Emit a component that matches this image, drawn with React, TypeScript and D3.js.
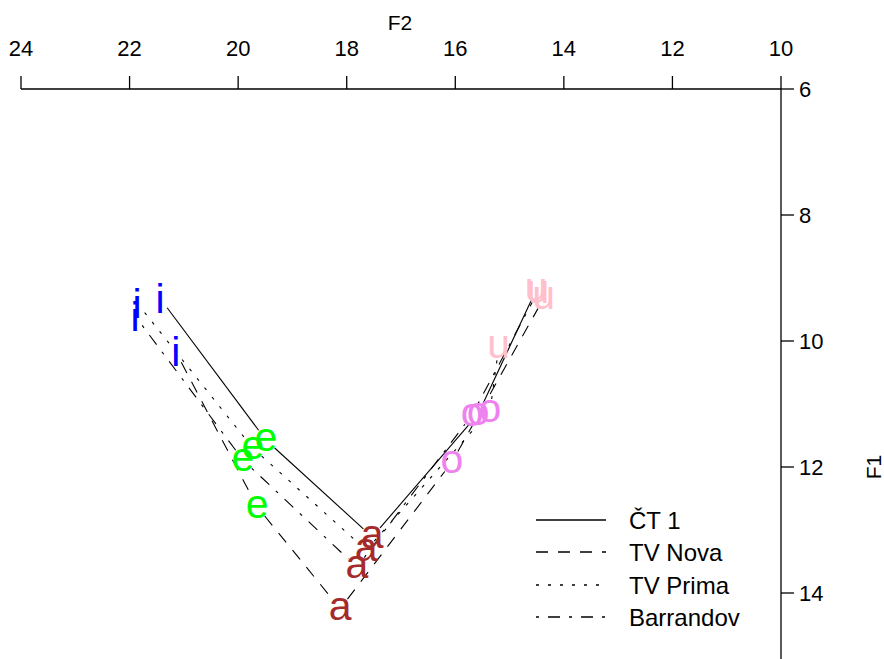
import React from "react";
import * as d3 from "d3";

const vowels = ["i", "e", "a", "o", "u"];
const vowelColors = ["#0000FF", "#00FF00", "#A52A2A", "#EE82EE", "#FFC0CB"];
const stations = ["ČT 1", "TV Nova", "TV Prima", "Barrandov"];
const dashes = ["none", "12,10", "3,9", "3,9,12,9"];

// F2 values (i, e, a, o, u)
const f2CT1 = [21.44, 19.49, 17.53, 15.58, 14.51];
const f2Nova = [21.15, 19.65, 18.12, 16.06, 14.37];
const f2Prima = [21.86, 19.73, 17.64, 15.36, 15.2];
const f2Barrandov = [21.9, 19.91, 17.81, 15.69, 14.48];
// F1 values (i, e, a, o, u)
const f1CT1 = [9.32, 11.57, 13.11, 11.16, 9.19];
const f1Nova = [10.17, 12.63, 14.25, 11.92, 9.32];
const f1Prima = [9.4, 11.7, 13.32, 11.11, 10.1];
const f1Barrandov = [9.6, 11.89, 13.59, 11.17, 9.22];

const f2Ticks = [24, 22, 20, 18, 16, 14, 12, 10];
const f1Ticks = [6, 8, 10, 12, 14];

const series = [
  { name: stations[0], f2: f2CT1, f1: f1CT1, dash: dashes[0] },
  { name: stations[1], f2: f2Nova, f1: f1Nova, dash: dashes[1] },
  { name: stations[2], f2: f2Prima, f1: f1Prima, dash: dashes[2] },
  { name: stations[3], f2: f2Barrandov, f1: f1Barrandov, dash: dashes[3] },
];

const W = 884;
const H = 659;
const font = "Liberation Sans, Arial, sans-serif";

export default function App() {
  const x = d3.scaleLinear().domain([24, 10]).range([21, 781]);
  const y = d3.scaleLinear().domain([6, 14]).range([89, 593]);
  const letterSize = 41;
  const gap = 12;

  const segs: { x1: number; y1: number; x2: number; y2: number; dash: string }[] = [];
  series.forEach((s) => {
    for (let k = 0; k < s.f2.length - 1; k++) {
      const ax = x(s.f2[k]), ay = y(s.f1[k]);
      const bx = x(s.f2[k + 1]), by = y(s.f1[k + 1]);
      const len = Math.hypot(bx - ax, by - ay);
      const ux = (bx - ax) / len, uy = (by - ay) / len;
      segs.push({
        x1: ax + ux * gap, y1: ay + uy * gap,
        x2: bx - ux * gap, y2: by - uy * gap,
        dash: s.dash,
      });
    }
  });

  const legendY = [520, 552, 585, 617];

  return (
    <svg width={W} height={H} style={{ position: "absolute", left: 0, top: 0, background: "#fff" }}
      fontFamily={font}>
      <rect x={0} y={0} width={W} height={H} fill="#fff" />
      {/* top axis */}
      <line x1={x(24)} x2={x(10)} y1={89} y2={89} stroke="#000" strokeWidth={1.3} />
      {f2Ticks.map((t) => (
        <g key={"tx" + t}>
          <line x1={x(t)} x2={x(t)} y1={89} y2={76} stroke="#000" strokeWidth={1.3} />
          <text x={x(t)} y={48} textAnchor="middle" dominantBaseline="central" fontSize={22}>{t}</text>
        </g>
      ))}
      <text x={400} y={22} textAnchor="middle" dominantBaseline="central" fontSize={21}>F2</text>
      {/* right axis */}
      <line x1={781} x2={781} y1={y(6)} y2={H} stroke="#000" strokeWidth={1.3} />
      {f1Ticks.map((t) => (
        <g key={"ty" + t}>
          <line x1={781} x2={794} y1={y(t)} y2={y(t)} stroke="#000" strokeWidth={1.3} />
          <text x={799} y={y(t)} textAnchor="start" dominantBaseline="central" fontSize={22}>{t}</text>
        </g>
      ))}
      <text x={873} y={467} textAnchor="middle" dominantBaseline="central" fontSize={21}
        transform="rotate(-90 873 467)">F1</text>
      {/* lines */}
      {segs.map((s, i) => (
        <line key={"seg" + i} x1={s.x1} y1={s.y1} x2={s.x2} y2={s.y2} stroke="#000"
          strokeWidth={1.1} strokeDasharray={s.dash === "none" ? undefined : s.dash} />
      ))}
      {/* letters */}
      {series.map((s, si) =>
        vowels.map((v, vi) => {
          const hEm = v === "i" ? 0.72 : 0.53;
          return (
            <text key={"l" + si + v} x={x(s.f2[vi])} y={y(s.f1[vi]) + (hEm / 2) * letterSize}
              textAnchor="middle" fontSize={letterSize} fill={vowelColors[vi]}>{v}</text>
          );
        })
      )}
      {/* legend */}
      {series.map((s, i) => (
        <g key={"lg" + i}>
          <line x1={536} x2={606} y1={legendY[i]} y2={legendY[i]} stroke="#000" strokeWidth={1.3}
            strokeDasharray={s.dash === "none" ? undefined : s.dash} />
          <text x={629} y={legendY[i]} dominantBaseline="central" fontSize={24}>{s.name}</text>
        </g>
      ))}
    </svg>
  );
}
